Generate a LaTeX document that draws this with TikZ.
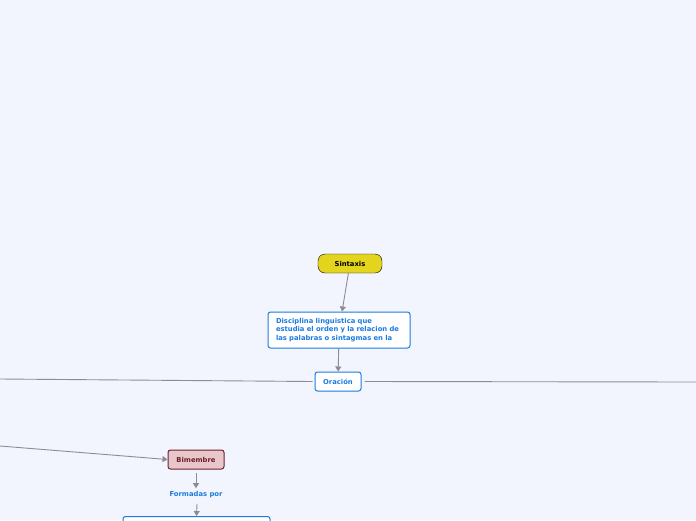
\documentclass[tikz,border=0pt]{standalone}
\usepackage{fontspec}
\setmainfont{DejaVu Sans}
\usetikzlibrary{arrows.meta,positioning}
\definecolor{bgcol}{HTML}{F2F5FE}
\definecolor{linkcol}{HTML}{8C8C94}
\definecolor{bluecol}{HTML}{1B7BE0}
\definecolor{topcol}{HTML}{E3D51E}
\definecolor{pinkcol}{HTML}{E8C6CA}
\definecolor{wine}{HTML}{6E1F2C}

\begin{document}
\begin{tikzpicture}[x=1pt, y=-1pt,
    every node/.style={font=\bfseries\fontsize{6.8}{8.5}\selectfont},
    topic/.style={rectangle, rounded corners=7pt, draw=black, fill=topcol, minimum width=64pt, minimum height=19pt},
    sub/.style={rectangle, rounded corners=2.5pt, draw=bluecol, fill=white, text=bluecol, line width=1pt},
    pinkbox/.style={rectangle, rounded corners=2.5pt, draw=wine, fill=pinkcol, text=wine, line width=1pt, minimum width=56pt, minimum height=19pt},
    link/.style={draw=linkcol, line width=0.9pt},
    arrow/.style={link, -{Triangle[length=5pt,width=6pt]}}]

    \fill[bgcol] (0,0) rectangle (696,520);
    \useasboundingbox (0,0) rectangle (696,520);
    \clip (0,0) rectangle (696,520);

    \node[topic] (sintaxis) at (350,263.5) {Sintaxis};
    \node[sub, text width=126pt, inner xsep=8pt, align=left, minimum height=36pt] (def) at (339,330)
        {Disciplina linguistica que\\estudia el orden y la relacion de\\las palabras o sintagmas en la};
    \node[sub, minimum width=46pt, minimum height=19pt] (oracion) at (338,381.5) {Oración};
    \node[pinkbox] (bimembre) at (196,459.5) {Bimembre};
    \node[text=bluecol] (formadas) at (196,495) {Formadas por};
    \node[sub, minimum width=147pt, minimum height=20pt, anchor=north] (sujeto) at (196.5,516) {};

    \coordinate (izq) at (0,379);
    \coordinate (der) at (696,382);
    \coordinate (izq2) at (0,446);

    \draw[arrow] (sintaxis) -- (def);
    \draw[arrow] (def) -- (oracion);
    \draw[link] (oracion.west) ++(-2,0) -- (izq);
    \draw[link] (oracion.east) ++(3,0) -- (der);
    \draw[arrow] (izq2) -- (bimembre.west);
    \draw[arrow] (bimembre.south) ++(0,3) -- (formadas.north);
    \draw[arrow] (formadas.south) ++(1,2) -- (sujeto.north);
\end{tikzpicture}
\end{document}
